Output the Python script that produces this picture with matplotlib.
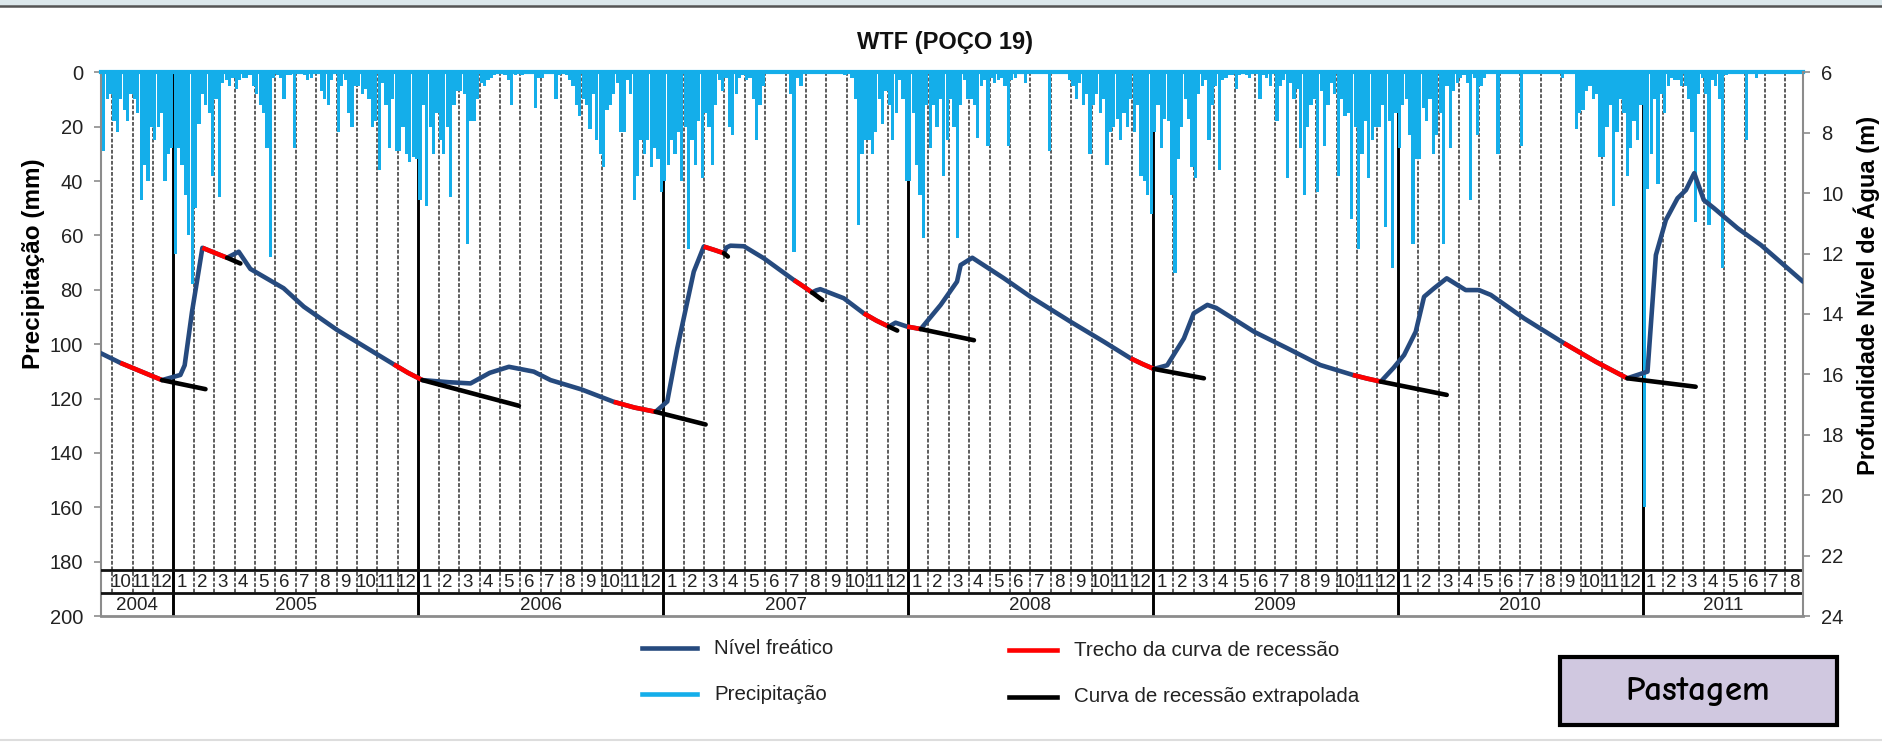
import numpy as np
import matplotlib
matplotlib.use("Agg")
import matplotlib.pyplot as plt
from matplotlib import font_manager as fm
from matplotlib.lines import Line2D
from matplotlib.patches import Rectangle


def has_font(name):
    try:
        fm.findfont(fm.FontProperties(family=name), fallback_to_default=False)
        return True
    except Exception:
        return False


SANS = 'Liberation Sans' if has_font('Liberation Sans') else 'DejaVu Sans'
NARROW = 'Liberation Sans Narrow' if has_font('Liberation Sans Narrow') else SANS
COMIC = 'Comic Neue' if has_font('Comic Neue') else SANS
plt.rcParams['font.family'] = [SANS, 'DejaVu Sans']

# ---------------- data ----------------
# precipitation (mm), six readings per month (about 5-day steps)
precip_2004 = [0, 0, 0, 29, 10, 8,          # Sep (second half only)
               18, 22, 10, 14, 18, 8,        # Oct
               10, 15, 47, 34, 40, 20,       # Nov
               25, 20, 15, 40, 30, 28]       # Dec
precip_2005 = [67, 28, 34, 45, 60, 78, 50, 19, 8, 12, 15, 38,
               10, 46, 4, 3, 5, 2, 6, 3, 2, 2, 1, 5,
               8, 12, 15, 28, 68, 2, 1, 2, 10, 1, 1, 28,
               0, 0, 1, 3, 2, 0, 0, 7, 10, 12, 3, 0,
               22, 5, 3, 15, 20, 5, 5, 8, 6, 10, 20, 18,
               36, 4, 12, 28, 10, 29, 29, 20, 30, 33, 31, 32]
precip_2006 = [47, 12, 49, 20, 30, 15, 25, 30, 20, 46, 12, 7,
               7, 8, 63, 18, 18, 10, 4, 5, 3, 2, 1, 0,
               0, 1, 3, 12, 1, 0, 1, 0, 0, 0, 13, 2,
               2, 0, 0, 0, 10, 1, 0, 1, 3, 5, 12, 16,
               10, 12, 21, 8, 25, 30, 35, 14, 12, 8, 4, 22,
               22, 3, 8, 47, 38, 25, 30, 25, 35, 28, 32, 44]
precip_2007 = [40, 34, 25, 30, 22, 40, 20, 65, 25, 34, 18, 39,
               15, 20, 34, 12, 3, 7, 2, 20, 23, 8, 2, 1,
               3, 2, 10, 25, 12, 5, 0, 0, 0, 0, 0, 0,
               0, 8, 66, 2, 5, 0, 0, 0, 0, 0, 0, 0,
               0, 0, 0, 0, 0, 1, 0, 2, 10, 56, 30, 25,
               25, 30, 22, 10, 19, 7, 12, 25, 15, 3, 10, 40]
precip_2008 = [40, 15, 34, 45, 61, 12, 28, 12, 20, 10, 38, 25,
               10, 20, 61, 12, 3, 10, 10, 12, 24, 5, 3, 27,
               2, 4, 3, 2, 5, 27, 3, 2, 0, 0, 4, 0,
               0, 0, 0, 0, 0, 29, 0, 0, 0, 0, 0, 3,
               5, 10, 4, 12, 8, 30, 12, 8, 15, 10, 34, 22,
               20, 17, 25, 15, 20, 10, 22, 12, 38, 40, 45, 52]
precip_2009 = [22, 12, 28, 17, 18, 45, 74, 32, 20, 10, 17, 35,
               39, 8, 5, 3, 25, 12, 5, 36, 3, 2, 1, 1,
               6, 1, 0, 1, 2, 0, 0, 10, 1, 2, 5, 0,
               18, 5, 3, 39, 4, 10, 6, 28, 45, 20, 12, 10,
               44, 7, 27, 12, 4, 8, 38, 10, 16, 15, 54, 20,
               65, 30, 18, 39, 25, 20, 20, 12, 57, 18, 72, 15]
precip_2010 = [28, 12, 10, 23, 63, 32, 32, 13, 18, 10, 30, 23,
               15, 63, 5, 28, 7, 4, 2, 1, 4, 47, 2, 23,
               5, 2, 0, 0, 0, 30, 0, 0, 0, 0, 0, 0,
               27, 0, 0, 0, 0, 0, 0, 0, 0, 0, 0, 0,
               2, 0, 0, 0, 21, 15, 14, 7, 5, 10, 8, 31,
               31, 20, 12, 49, 22, 10, 15, 38, 28, 18, 25, 12]
precip_2011 = [160, 43, 30, 10, 41, 8, 15, 5, 2, 3, 3, 5,
               5, 10, 22, 55, 8, 2, 8, 56, 3, 5, 10, 72,
               1, 0, 0, 0, 0, 0, 25, 0, 0, 2, 0, 0,
               0, 0, 0, 0, 0, 0, 0, 0, 0, 0, 0, 0]

# water-table depth (m); time in months counted from 1 Oct 2004
nivel_mes = [-0.56, 0.40, 1.40, 2.44, 3.34, 3.55, 3.91, 4.42, 5.00, 5.63, 6.20, 6.77,
             8.40, 9.39, 11.02, 13.80, 14.50, 15.20, 16.50, 17.56, 18.50, 19.44, 20.66,
             21.48, 23.00, 24.58, 25.60, 26.63, 27.20, 27.69, 28.50, 28.99, 29.50, 29.98,
             30.10, 30.30, 30.96, 31.94, 33.41, 33.90, 34.30, 34.50, 34.70, 35.85, 36.83,
             37.45, 38.06, 38.39, 38.96, 39.30, 39.62, 40.60, 41.40, 41.58, 42.15, 43.70,
             45.00, 46.97, 48.60, 49.91, 50.50, 51.05, 51.70, 52.52, 53.00, 53.67, 54.10,
             55.96, 57.60, 59.20, 60.80, 61.50, 62.17, 62.80, 63.31, 63.88, 64.29, 64.78,
             65.40, 66.33, 66.98, 67.56, 69.20, 71.15, 72.70, 74.25, 75.24, 75.65, 76.14,
             76.71, 77.12, 77.53, 78.00, 78.50, 79.65, 80.80, 82.86]
nivel_prof = [15.30, 15.62, 15.90, 16.19, 16.02, 15.70, 13.93, 11.81, 11.97, 12.14, 11.94, 12.51,
              13.15, 13.76, 14.53, 15.67, 15.95, 16.19, 16.26, 16.30, 15.95, 15.75, 15.91,
              16.19, 16.50, 16.91, 17.10, 17.24, 16.90, 15.14, 12.60, 11.77, 11.88, 11.99,
              11.80, 11.74, 11.76, 12.16, 12.88, 13.10, 13.29, 13.22, 13.18, 13.48, 13.98,
              14.22, 14.42, 14.29, 14.42, 14.46, 14.50, 13.70, 12.93, 12.38, 12.14, 12.82,
              13.43, 14.26, 14.92, 15.47, 15.66, 15.82, 15.70, 14.81, 13.98, 13.70, 13.80,
              14.59, 15.14, 15.69, 16.02, 16.14, 16.24, 15.78, 15.36, 14.59, 13.43, 13.15,
              12.82, 13.21, 13.21, 13.37, 14.15, 14.97, 15.58, 16.13, 15.91, 12.05, 10.89,
              10.17, 9.90, 9.34, 10.23, 10.50, 11.16, 11.72, 12.93]

# recession stretches (start month, end month) taken from the water-table series
recessao_ini = [0.40, 4.42, 13.80, 24.58, 28.99, 33.41, 36.83, 38.96, 49.91, 60.80, 71.15]
recessao_fim = [2.44, 5.63, 15.20, 26.63, 29.98, 34.30, 38.06, 39.62, 51.05, 62.17, 74.25]

# extrapolated recession curves: (month, depth) at start and end
extrap_mes_ini = [2.44, 5.63, 15.20, 26.63, 29.98, 34.30, 38.06, 39.62, 51.05, 62.17, 74.25]
extrap_prof_ini = [16.19, 12.14, 16.19, 17.24, 11.99, 13.29, 14.42, 14.50, 15.82, 16.24, 16.13]
extrap_mes_fim = [4.57, 6.28, 19.93, 29.08, 30.17, 34.80, 38.47, 42.23, 53.50, 65.40, 77.60]
extrap_prof_fim = [16.49, 12.33, 17.04, 17.66, 12.10, 13.54, 14.55, 14.87, 16.13, 16.68, 16.41]

anos = [2004, 2005, 2006, 2007, 2008, 2009, 2010, 2011]
mes_inicio = [9, 1, 1, 1, 1, 1, 1, 1]   # first month of each yearly series
n_meses = [4, 12, 12, 12, 12, 12, 12, 8]
rotulos_meses = [str(m) for m in range(1, 13)]

titulo = "WTF (POÇO 19)"
rotulo_esq = "Precipitação (mm)"
rotulo_dir = "Profundidade Nível de Água (m)"
leg_nivel = "Nível freático"
leg_prec = "Precipitação"
leg_trecho = "Trecho da curva de recessão"
leg_extrap = "Curva de recessão extrapolada"
caixa_texto = "Pastagem"

# ---------------- style ----------------
C_PREC = '#14AEEA'
C_NIVEL = '#264A7E'
C_RED = '#FF0000'
C_GRID = '#4A4A4A'
C_SPINE = '#8C8C8C'

W, H = 1883, 742
fig = plt.figure(figsize=(W / 100, H / 100), dpi=100)


def fx(px):
    return px / W


def fy(py):
    return 1 - py / H


ax_l, ax_r, ax_t, ax_b = 101, 1803, 72.3, 616
ax = fig.add_axes([fx(ax_l), fy(ax_b), fx(ax_r - ax_l), fy(ax_t) - fy(ax_b)])
XMIN, XMAX = -0.55, 82.86
ax.set_xlim(XMIN, XMAX)
ax.set_ylim(200, 0)

# build precipitation x positions
all_p = [precip_2004, precip_2005, precip_2006, precip_2007,
         precip_2008, precip_2009, precip_2010, precip_2011]
xs, ps = [], []
for yr, m0, nm, pv in zip(anos, mes_inicio, n_meses, all_p):
    for i in range(nm):
        k = (yr - 2004) * 12 + (m0 + i - 10)
        for j in range(6):
            xs.append(k + (j + 0.5) / 6)
            ps.append(pv[i * 6 + j])
xs = np.array(xs)
ps = np.array(ps, dtype=float)

ROW_TOP, ROW_MID, ROW_BOT = 183.2, 191.4, 200

# month grid lines and month labels
n_total = 83
for k in range(0, n_total):
    mon = (k + 9) % 12 + 1
    if mon == 1:
        ax.plot([k, k], [0, ROW_BOT], color='black', lw=2.1, zorder=2,
                solid_capstyle='butt')
    else:
        ax.plot([k, k], [0, ROW_MID], color=C_GRID, lw=1.25, zorder=1,
                linestyle=(0, (2.2, 1.0)))
    ax.text(k + 0.42, (ROW_TOP + ROW_MID) / 2 + 0.3, rotulos_meses[mon - 1],
            ha='center', va='center', fontsize=13.5, family=NARROW, color='#222222',
            zorder=5)

# table horizontal lines
ax.plot([XMIN, XMAX], [ROW_TOP, ROW_TOP], color='#111111', lw=2.0, zorder=4)
ax.plot([XMIN, XMAX], [ROW_MID, ROW_MID], color='#111111', lw=2.0, zorder=4)

for yr in anos:
    start = max((yr - 2004) * 12 - 9, XMIN)
    end = min((yr - 2004) * 12 + 3, XMAX)
    ax.text((start + end) / 2, (ROW_MID + ROW_BOT) / 2 + 0.4, str(yr),
            ha='center', va='center', fontsize=13.5, family=NARROW, color='#222222')

# precipitation bars hanging from the top
ax.bar(xs, ps, width=0.95 / 6, bottom=0, color=C_PREC, linewidth=0, zorder=3)

# axis styling (left)
ax.set_yticks(np.arange(0, 201, 20))
ax.set_xticks([])
ax.tick_params(axis='y', labelsize=14.5, length=5, width=1.2, color=C_SPINE,
               pad=8, labelcolor='#222222')
ax.spines['left'].set_color(C_SPINE)
ax.spines['left'].set_linewidth(1.5)
ax.spines['bottom'].set_color(C_SPINE)
ax.spines['bottom'].set_linewidth(2.0)
ax.spines['right'].set_visible(False)
ax.spines['top'].set_color(C_PREC)
ax.spines['top'].set_linewidth(3.0)

ax.set_ylabel(rotulo_esq, fontsize=17.5, fontweight='bold')
ax.yaxis.set_label_coords((45 - ax_l) / (ax_r - ax_l), (ax_b - 264) / (ax_b - ax_t))

# right axis: water table depth
ax2 = ax.twinx()
ax2.set_ylim(24, 6)
ax2.set_xlim(XMIN, XMAX)
ax2.set_yticks(np.arange(6, 25, 2))
ax2.tick_params(axis='y', labelsize=14.5, length=5, width=1.2, color=C_SPINE,
                pad=8, labelcolor='#222222')
for s in ['left', 'top', 'bottom']:
    ax2.spines[s].set_visible(False)
ax2.spines['right'].set_color(C_SPINE)
ax2.spines['right'].set_linewidth(1.5)
ax2.set_ylabel(rotulo_dir, fontsize=17, fontweight='bold')
ax2.yaxis.set_label_coords((1853 - ax_l) / (ax_r - ax_l), (ax_b - 295) / (ax_b - ax_t))
ax2.patch.set_visible(False)

LW = 3.3
nm = np.array(nivel_mes)
npf = np.array(nivel_prof)
ax2.plot(nm, npf, color=C_NIVEL, lw=LW, solid_joinstyle='round',
         solid_capstyle='round', zorder=4)
for a, b in zip(recessao_ini, recessao_fim):
    sel = (nm >= a - 1e-6) & (nm <= b + 1e-6)
    ax2.plot(nm[sel], npf[sel], color=C_RED, lw=LW, solid_capstyle='butt', zorder=5)
for x0, y0, x1, y1 in zip(extrap_mes_ini, extrap_prof_ini, extrap_mes_fim, extrap_prof_fim):
    ax2.plot([x0, x1], [y0, y1], color='black', lw=LW, solid_capstyle='round', zorder=6)

# title
fig.text(fx(945), fy(42), titulo, ha='center', va='center', fontsize=17,
         fontweight='bold', color='#111111')


# legend (manual)
def leg_item(x0, x1, y, color, label):
    fig.add_artist(Line2D([fx(x0), fx(x1)], [fy(y), fy(y)], color=color, lw=3.3,
                          transform=fig.transFigure))
    fig.text(fx(x1 + 17), fy(y), label, ha='left', va='center', fontsize=14.8,
             family=NARROW, color='#222222')


leg_item(642, 697, 648, C_NIVEL, leg_nivel)
leg_item(642, 697, 694, C_PREC, leg_prec)
leg_item(1009, 1057, 650, C_RED, leg_trecho)
leg_item(1009, 1057, 697, 'black', leg_extrap)

# "Pastagem" box
fig.add_artist(Rectangle((fx(1560), fy(725)), fx(277), fy(657) - fy(725),
                         transform=fig.transFigure, facecolor='#D0C8E0',
                         edgecolor='black', lw=3))
fig.text(fx(1698), fy(692), caixa_texto, ha='center', va='center', fontsize=25,
         color='black', family=[COMIC, SANS], fontweight='bold')

# top frame band
fig.add_artist(Rectangle((0, fy(6)), 1, fy(0) - fy(6), transform=fig.transFigure,
                         facecolor='#DCE8EC', edgecolor='none'))
fig.add_artist(Line2D([0, 1], [fy(6), fy(6)], color='#555555', lw=1.8,
                      transform=fig.transFigure))
fig.add_artist(Line2D([0, 1], [fy(740), fy(740)], color='#DDDDDD', lw=1.5,
                      transform=fig.transFigure))

fig.savefig('out.png', dpi=100)
